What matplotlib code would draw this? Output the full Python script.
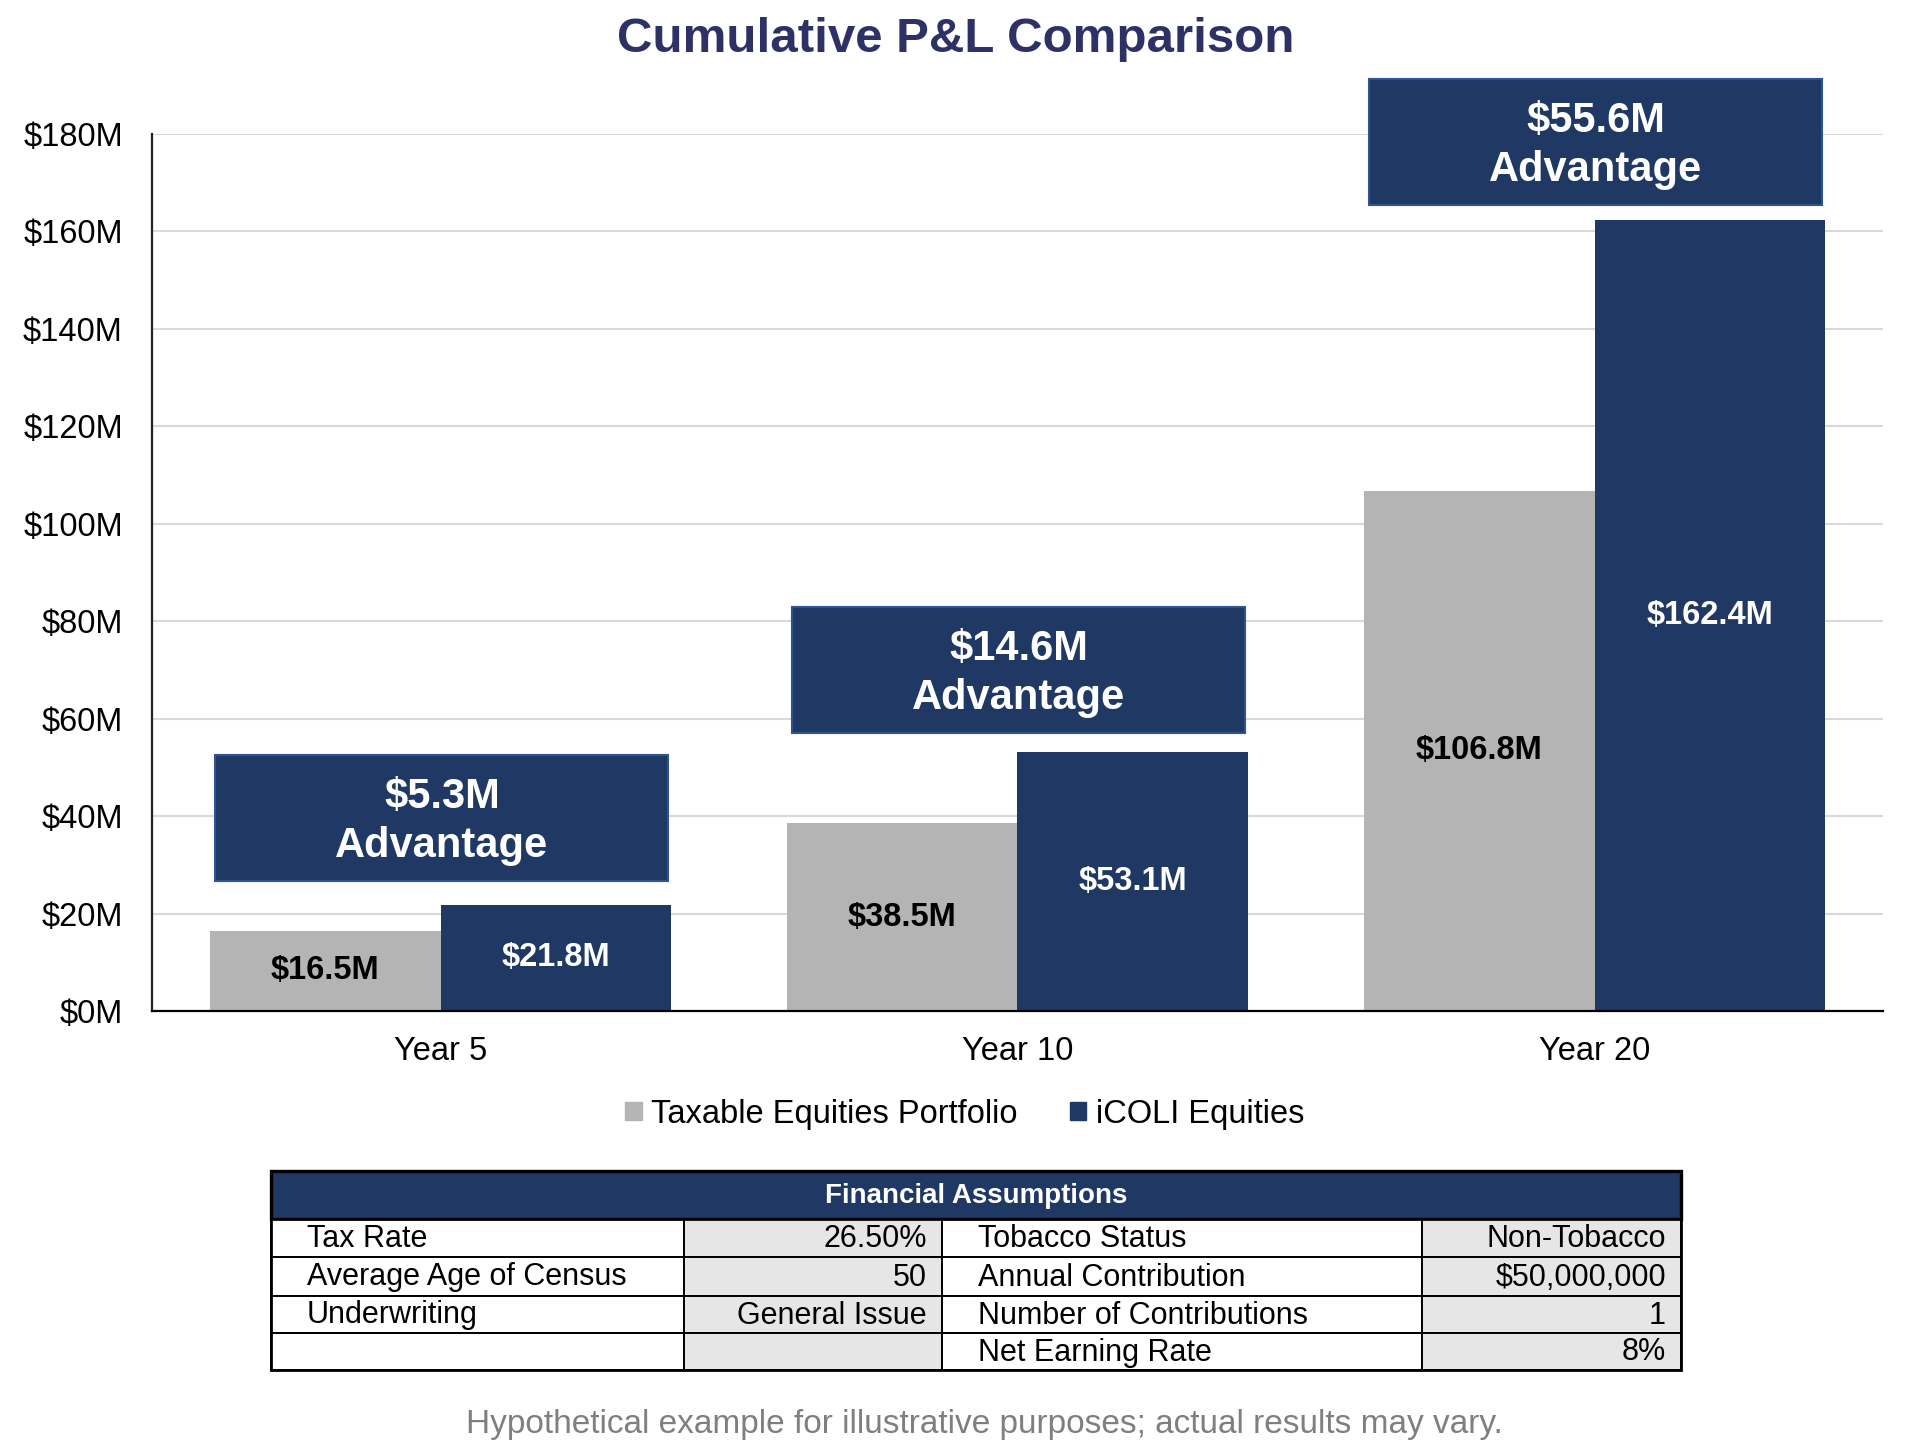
import numpy as np
import matplotlib
matplotlib.use("Agg")
import matplotlib.pyplot as plt
from matplotlib.patches import Rectangle, Patch

plt.rcParams["font.family"] = ["Liberation Sans", "DejaVu Sans"]

# ---- data -------------------------------------------------------------
categories = ["Year 5", "Year 10", "Year 20"]
taxable = [16.5, 38.5, 106.8]        # $M, Taxable Equities Portfolio
icoli = [21.8, 53.1, 162.4]          # $M, iCOLI Equities
series_names = ["Taxable Equities Portfolio", "iCOLI Equities"]
y_ticks = [0, 20, 40, 60, 80, 100, 120, 140, 160, 180]

table_title = "Financial Assumptions"
left_labels = ["Tax Rate", "Average Age of Census", "Underwriting", ""]
left_values = ["26.50%", "50", "General Issue", ""]
right_labels = ["Tobacco Status", "Annual Contribution",
                "Number of Contributions", "Net Earning Rate"]
right_values = ["Non-Tobacco", "$50,000,000", "1", "8%"]

footnote = "Hypothetical example for illustrative purposes; actual results may vary."

# ---- style ------------------------------------------------------------
NAVY = "#1F3864"
GRAY = "#B4B4B4"
TITLE_C = "#2E3166"
GRID_C = "#D9D9D9"
CELL_GRAY = "#E7E6E6"

W, H = 1916, 1456
fig = plt.figure(figsize=(W / 100, H / 100), dpi=100)
fig.patch.set_facecolor("white")


def fx(px):
    return px / W


def fy(px):
    return 1 - px / H


# main axes
ax = fig.add_axes([fx(152), fy(1011), fx(1883 - 152), (1011 - 134) / H])
x = np.arange(len(categories))
bw = 0.4
b1 = ax.bar(x - bw / 2, taxable, bw, color=GRAY, zorder=2)
b2 = ax.bar(x + bw / 2, icoli, bw, color=NAVY, zorder=2)

ax.set_xlim(-0.5, len(categories) - 0.5)
ax.set_ylim(0, 180)
ax.set_yticks(y_ticks)
ax.set_yticklabels([f"${v}M" for v in y_ticks], fontsize=23.5)
ax.set_xticks(x)
ax.set_xticklabels(categories, fontsize=23.5)
ax.tick_params(axis="y", length=0, pad=21)
ax.tick_params(axis="x", length=0, pad=18)
ax.grid(axis="y", color=GRID_C, linewidth=1.5, zorder=0)
ax.set_axisbelow(True)
for s in ("top", "right"):
    ax.spines[s].set_visible(False)
ax.spines["left"].set_color("#222222")
ax.spines["left"].set_linewidth(1.6)
ax.spines["bottom"].set_color("black")
ax.spines["bottom"].set_linewidth(1.6)

# value labels at bar centres
for xi, v in zip(x, taxable):
    ax.text(xi - bw / 2, v / 2, f"${v:.1f}M", ha="center", va="center",
            fontsize=23.5, fontweight="bold", color="black", zorder=3)
for xi, v in zip(x, icoli):
    ax.text(xi + bw / 2, v / 2, f"${v:.1f}M", ha="center", va="center",
            fontsize=23.5, fontweight="bold", color="white", zorder=3)

# advantage boxes
box_gap = [4.9, 4.0, 3.0]
box_h = 25.8
for xi, t, c, g in zip(x, taxable, icoli, box_gap):
    adv = c - t
    y0 = c + g
    ax.add_patch(Rectangle((xi - 0.39, y0), 0.785, box_h, facecolor=NAVY,
                           edgecolor="#2E5395", linewidth=1.5,
                           clip_on=False, zorder=4))
    ax.text(xi + 0.0025, y0 + box_h / 2 - 0.7, f"${adv:.1f}M\nAdvantage",
            ha="center", va="center", fontsize=30, fontweight="bold",
            color="white", linespacing=1.3, zorder=5, clip_on=False)

# title
fig.text(0.499, fy(40), "Cumulative P&L Comparison", ha="center",
         va="center", fontsize=35.5, fontweight="bold", color=TITLE_C)

# legend
fig.legend([Patch(color=GRAY), Patch(color=NAVY)], series_names,
           loc="center", bbox_to_anchor=(fx(965), fy(1114)), ncol=2,
           frameon=False, fontsize=23.5, handlelength=0.5,
           handleheight=0.5, handletextpad=0.3, columnspacing=1.6)

# ---- assumptions table ------------------------------------------------
tx0, ty0, tw, th = 271, 1171, 1410, 199
tax = fig.add_axes([fx(tx0), fy(ty0 + th), tw / W, th / H])
tax.set_xlim(0, tw)
tax.set_ylim(th, 0)
tax.axis("off")

col_edges = [0, 413, 671, 1151, 1410]
row_edges = [48, 86, 125, 162, 199]

tax.add_patch(Rectangle((0, 0), tw, row_edges[0], facecolor=NAVY,
                        edgecolor="black", linewidth=2.4, clip_on=False))
tax.text(tw / 2, row_edges[0] / 2 + 1, table_title, ha="center",
         va="center", fontsize=20, fontweight="bold", color="white")

columns = [left_labels, left_values, right_labels, right_values]
for ci, col in enumerate(columns):
    xa, xb = col_edges[ci], col_edges[ci + 1]
    is_val = ci % 2 == 1
    for ri, txt in enumerate(col):
        ya, yb = row_edges[ri], row_edges[ri + 1]
        tax.add_patch(Rectangle((xa, ya), xb - xa, yb - ya,
                                facecolor=CELL_GRAY if is_val else "white",
                                edgecolor="black", linewidth=1.4,
                                clip_on=False))
        if is_val:
            tax.text(xb - 15, (ya + yb) / 2 + 1, txt, ha="right",
                     va="center", fontsize=22, color="black")
        else:
            tax.text(xa + 36, (ya + yb) / 2 + 1, txt, ha="left",
                     va="center", fontsize=22, color="black")

tax.add_patch(Rectangle((0, row_edges[0]), tw, th - row_edges[0],
                        facecolor="none", edgecolor="black", linewidth=2.0,
                        clip_on=False))

fig.text(fx(984), fy(1424), footnote, ha="center", va="center",
         fontsize=24, color="#7F7F7F")

fig.savefig("out.png", dpi=100, facecolor="white")
